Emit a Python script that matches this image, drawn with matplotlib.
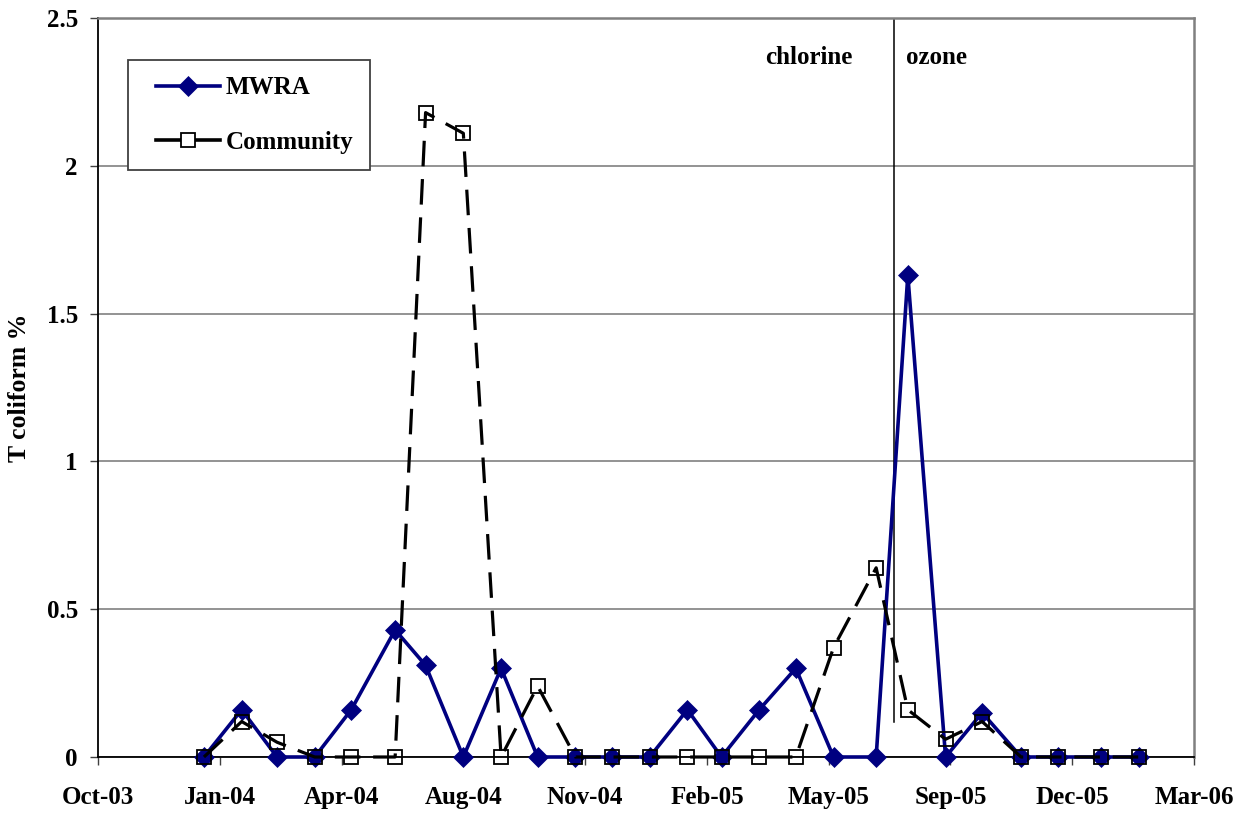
import numpy as np
import matplotlib
matplotlib.use("Agg")
import matplotlib.pyplot as plt
from matplotlib.lines import Line2D
from matplotlib.legend_handler import HandlerLine2D

# ---- data ----
dates = ['2004-01-01', '2004-02-01', '2004-03-01', '2004-04-01', '2004-05-01',
         '2004-06-06', '2004-07-01', '2004-08-01', '2004-09-01', '2004-10-01',
         '2004-11-01', '2004-12-01', '2005-01-01', '2005-02-01', '2005-03-01',
         '2005-04-01', '2005-05-01', '2005-06-01', '2005-07-06', '2005-08-01',
         '2005-09-01', '2005-10-01', '2005-11-02', '2005-12-02', '2006-01-07',
         '2006-02-07']
mwra = [0, 0.16, 0, 0, 0.16, 0.43, 0.31, 0, 0.30, 0, 0, 0, 0, 0.16, 0,
        0.16, 0.30, 0, 0, 1.63, 0, 0.15, 0, 0, 0, 0]
community = [0, 0.12, 0.05, 0, 0, 0, 2.18, 2.11, 0, 0.24, 0, 0, 0, 0, 0,
             0, 0, 0.37, 0.64, 0.16, 0.06, 0.12, 0, 0, 0, 0]
switch_date = '2005-07-21'
switch_range = [0.12, 2.5]
x_start = '2003-10-06'
x_step_days = 100
x_tick_labels = ['Oct-03', 'Jan-04', 'Apr-04', 'Aug-04', 'Nov-04',
                 'Feb-05', 'May-05', 'Sep-05', 'Dec-05', 'Mar-06']
y_ticks = [0, 0.5, 1, 1.5, 2, 2.5]
y_tick_labels = ['0', '0.5', '1', '1.5', '2', '2.5']

plt.rcParams['font.family'] = ['Liberation Serif', 'DejaVu Serif']
plt.rcParams['font.weight'] = 'bold'

fig = plt.figure(figsize=(12.47, 8.14), dpi=100)
ax = fig.add_axes([98 / 1247, 57 / 814, 1096 / 1247, 739 / 814])

x = np.array(dates, dtype='datetime64[D]')
start = np.datetime64(x_start)
tick_pos = [start + np.timedelta64(x_step_days * k, 'D') for k in range(len(x_tick_labels))]

navy = '#000080'
ax.plot(x, mwra, color=navy, lw=2.6, marker='D', markersize=10.5,
        markerfacecolor=navy, markeredgecolor=navy, markeredgewidth=0.5,
        zorder=3, label='MWRA', clip_on=False)
ax.plot(x, community, color='black', lw=2.3, dashes=(8.0, 4.0),
        marker='s', markersize=10, markerfacecolor='none',
        markeredgecolor='black', markeredgewidth=1.3, zorder=4,
        label='Community', clip_on=False)

sd = np.datetime64(switch_date)
ax.plot([sd, sd], switch_range, color='black', lw=1.1, zorder=2)

ax.text(0.649, 0.946, 'chlorine', transform=ax.transAxes, ha='center',
        va='center', fontsize=18, fontweight='bold')
ax.text(0.765, 0.946, 'ozone', transform=ax.transAxes, ha='center',
        va='center', fontsize=18, fontweight='bold')

ax.set_xlim(tick_pos[0], tick_pos[-1])
ax.set_ylim(0, 2.5)
ax.set_xticks(tick_pos)
ax.set_xticklabels(x_tick_labels)
ax.set_yticks(y_ticks)
ax.set_yticklabels(y_tick_labels)

ax.grid(axis='y', color='#808080', lw=1.2, zorder=0)
ax.set_axisbelow(True)
for s in ['left', 'bottom']:
    ax.spines[s].set_color('black')
    ax.spines[s].set_linewidth(1.3)
for s in ['top', 'right']:
    ax.spines[s].set_color('#808080')
    ax.spines[s].set_linewidth(1.8)

ax.tick_params(axis='x', direction='out', length=6, width=1, pad=15,
               labelsize=18, color='#404040')
ax.tick_params(axis='y', direction='out', length=6, width=1, pad=8.5,
               labelsize=18, color='#404040')
for lab in ax.get_xticklabels() + ax.get_yticklabels():
    lab.set_fontweight('bold')

ax.set_ylabel('T coliform %', fontsize=18.5, fontweight='bold', labelpad=11)

h1 = Line2D([], [], color=navy, lw=2.6, marker='D', markersize=10.5,
            markerfacecolor=navy, markeredgecolor=navy, markeredgewidth=0.5)
h2 = Line2D([], [], color='black', lw=2.6, marker='s', markersize=10,
            markerfacecolor='white', markeredgecolor='black', markeredgewidth=1.3)
leg = ax.legend([h1, h2], ['MWRA', 'Community'], loc='upper left',
                bbox_to_anchor=((128 - 98) / 1096, (757 - 60) / 739),
                borderaxespad=0, borderpad=0.66, handlelength=3.0,
                handletextpad=0.24, labelspacing=1.25, fancybox=False,
                framealpha=1, edgecolor='#404040', numpoints=1,
                prop={'size': 18, 'weight': 'bold'},
                handler_map={Line2D: HandlerLine2D(xpad=0.45)})
leg.get_frame().set_linewidth(1.3)

fig.savefig('out.png', dpi=100)
